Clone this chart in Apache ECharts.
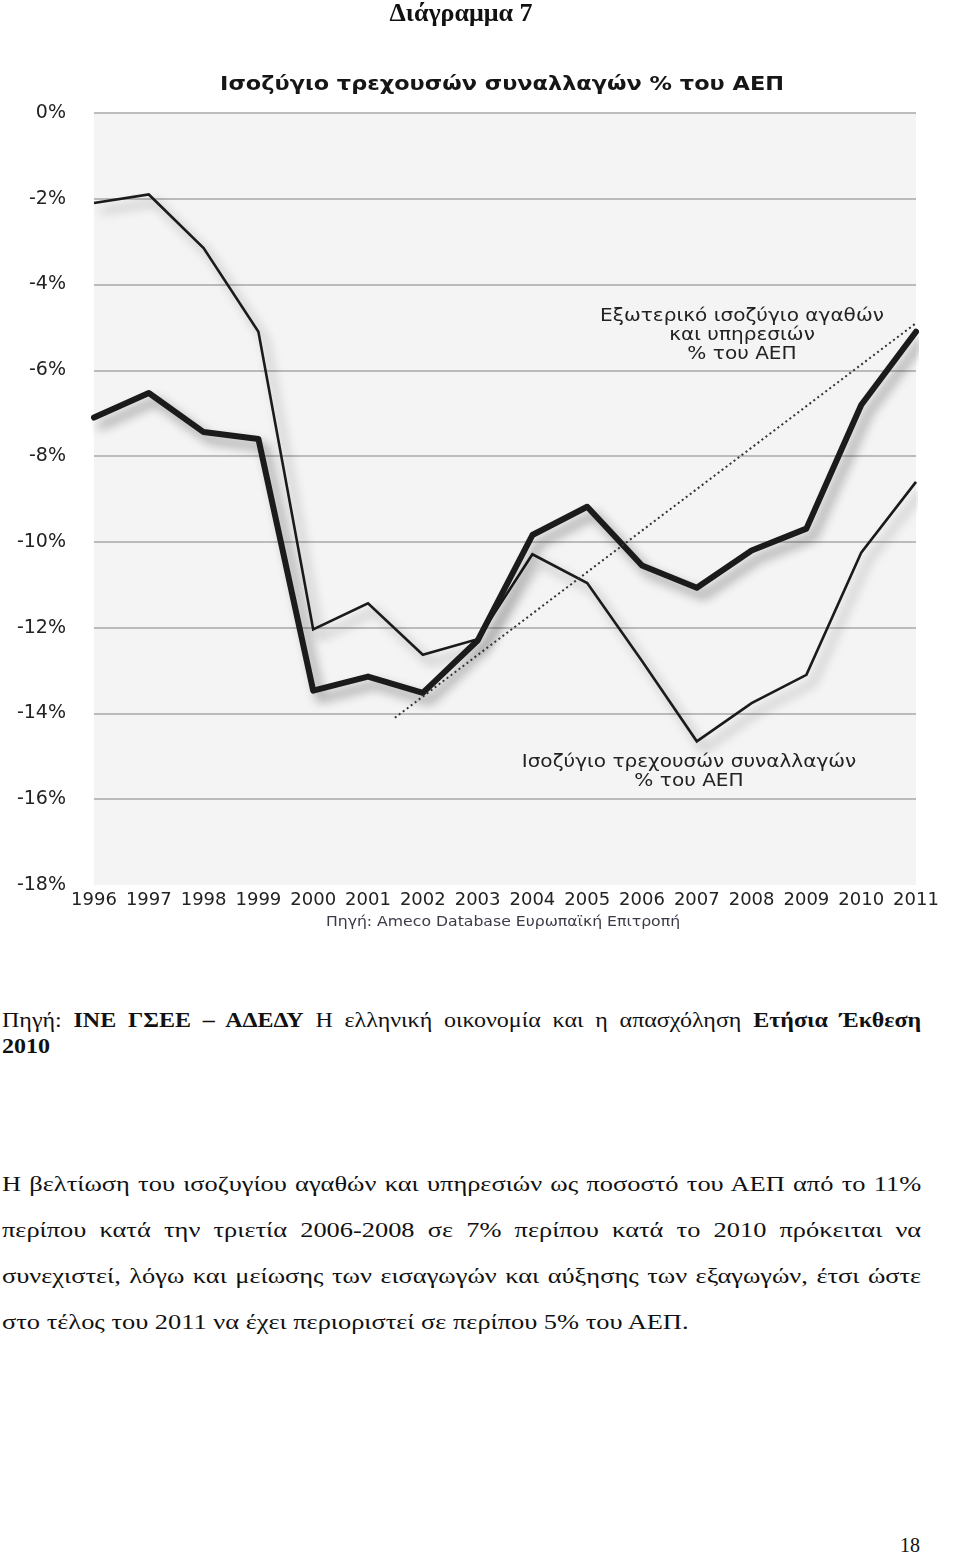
<!DOCTYPE html>
<html>
<head>
<meta charset="utf-8">
<script src="https://cdn.jsdelivr.net/npm/echarts@6/dist/echarts.min.js"></script>
<style>
  html, body { margin: 0; padding: 0; background: #fff; }
  body { width: 960px; height: 1562px; position: relative; overflow: hidden; }
  #chart { position: absolute; left: 0; top: 0; width: 960px; height: 950px; z-index: 1; }
  .serif { font-family: "Liberation Serif", "DejaVu Serif", serif; color: #111; position: absolute; z-index: 2; }
  .wide { transform: scaleX(1.2); transform-origin: 0 0; }
  .jl { text-align: justify; text-align-last: justify; white-space: nowrap; }
</style>
</head>
<body>
<div class="serif" style="left:0;top:-1px;width:922px;text-align:center;font-weight:bold;font-size:26px;line-height:28px;">Διάγραμμα 7</div>
<div id="chart"></div>
<div class="serif wide" style="left:2px;top:1007px;width:766px;font-size:20px;line-height:26px;">
  <div class="jl">Πηγή: <b>ΙΝΕ ΓΣΕΕ – ΑΔΕΔΥ</b> Η ελληνική οικονομία και η απασχόληση <b>Ετήσια Έκθεση</b></div>
  <div><b>2010</b></div>
</div>
<div class="serif wide" style="left:2px;top:1161px;width:766px;font-size:22px;line-height:46px;">
  <div class="jl">Η βελτίωση του ισοζυγίου αγαθών και υπηρεσιών ως ποσοστό του ΑΕΠ από το 11%</div>
  <div class="jl">περίπου κατά την τριετία 2006-2008 σε 7% περίπου κατά το 2010 πρόκειται να</div>
  <div class="jl">συνεχιστεί, λόγω και μείωσης των εισαγωγών και αύξησης των εξαγωγών, έτσι ώστε</div>
  <div>στο τέλος του 2011 να έχει περιοριστεί σε περίπου 5% του ΑΕΠ.</div>
</div>
<div class="serif" style="left:800px;top:1533px;width:120px;text-align:right;font-size:20px;line-height:24px;">18</div>
<script>
// ---- data ----
const years = ['1996','1997','1998','1999','2000','2001','2002','2003','2004','2005','2006','2007','2008','2009','2010','2011'];
const goodsServices = [-7.10, -6.53, -7.44, -7.60, -13.47, -13.14, -13.52, -12.30, -9.84, -9.18, -10.55, -11.07, -10.20, -9.69, -6.81, -5.10];
const currentAccount = [-2.10, -1.90, -3.15, -5.10, -12.04, -11.43, -12.63, -12.27, -10.29, -10.96, -12.78, -14.65, -13.76, -13.10, -10.25, -8.60];
const trendX = [5.49, 15];
const trendY = [-14.10, -4.90];
const chartTitle = 'Ισοζύγιο τρεχουσών συναλλαγών % του ΑΕΠ';
const sourceText = 'Πηγή: Ameco Database Ευρωπαϊκή Επιτροπή';
const labelGoods = 'Εξωτερικό ισοζύγιο αγαθών\nκαι υπηρεσιών\n% του ΑΕΠ';
const labelCurrent = 'Ισοζύγιο τρεχουσών συναλλαγών\n% του ΑΕΠ';

const FONT = '"DejaVu Sans", Verdana, sans-serif';
const chart = echarts.init(document.getElementById('chart'), null, { renderer: 'canvas' });
const shadow = { shadowColor: 'rgba(0,0,0,0.4)', shadowBlur: 11, shadowOffsetX: 7, shadowOffsetY: 8 };

chart.setOption({
  animation: false,
  backgroundColor: 'transparent',
  grid: { left: 94, right: 44, top: 113, height: 772, show: true, backgroundColor: '#f4f4f4', borderWidth: 0 },
  xAxis: [
    {
      type: 'category', data: years, boundaryGap: false,
      axisLine: { show: false }, axisTick: { show: false }, splitLine: { show: false },
      axisLabel: { interval: 0, margin: 6, fontSize: 18, color: '#222', fontFamily: FONT }
    },
    { type: 'value', min: 0, max: 15, show: false }
  ],
  yAxis: {
    type: 'value', min: -18, max: 0, interval: 2,
    axisLine: { show: false }, axisTick: { show: false },
    axisLabel: { margin: 28, fontSize: 19, color: '#222', fontFamily: FONT, formatter: '{value}%' },
    splitLine: { show: true, showMinLine: false, lineStyle: { color: '#a9a9a9', width: 1.5 } }
  },
  series: [
    {
      type: 'line', name: 'goods', xAxisIndex: 0, data: goodsServices, symbol: 'none', z: 3,
      lineStyle: Object.assign({ color: '#1b1b1b', width: 6, join: 'round', cap: 'round' }, shadow)
    },
    {
      type: 'line', name: 'current', xAxisIndex: 0, data: currentAccount, symbol: 'none', z: 2,
      lineStyle: Object.assign({ color: '#1b1b1b', width: 2.6, join: 'miter' }, shadow)
    },
    {
      type: 'line', name: 'trend', xAxisIndex: 1, data: trendX.map((x, i) => [x, trendY[i]]), symbol: 'none', z: 4,
      lineStyle: { color: '#333', width: 2, type: [2, 3] }
    }
  ],
  graphic: [
    { type: 'text', x: 502, y: 85, scaleX: 1.18, style: { text: chartTitle, fontSize: 19, fontWeight: 'bold', fontFamily: FONT, fill: '#161616', align: 'center', verticalAlign: 'middle' } },
    { type: 'text', x: 503, y: 922, scaleX: 1.12, style: { text: sourceText, fontSize: 14, fontFamily: FONT, fill: '#3a3a48', align: 'center', verticalAlign: 'middle' } },
    { type: 'text', x: 742, y: 336, z: 10, scaleX: 1.18, style: { text: labelGoods, fontSize: 17, lineHeight: 19, fontFamily: FONT, fill: '#222', align: 'center', verticalAlign: 'middle' } },
    { type: 'text', x: 689, y: 772, z: 10, scaleX: 1.18, style: { text: labelCurrent, fontSize: 17, lineHeight: 19, fontFamily: FONT, fill: '#222', align: 'center', verticalAlign: 'middle' } }
  ]
});
</script>
</body>
</html>
